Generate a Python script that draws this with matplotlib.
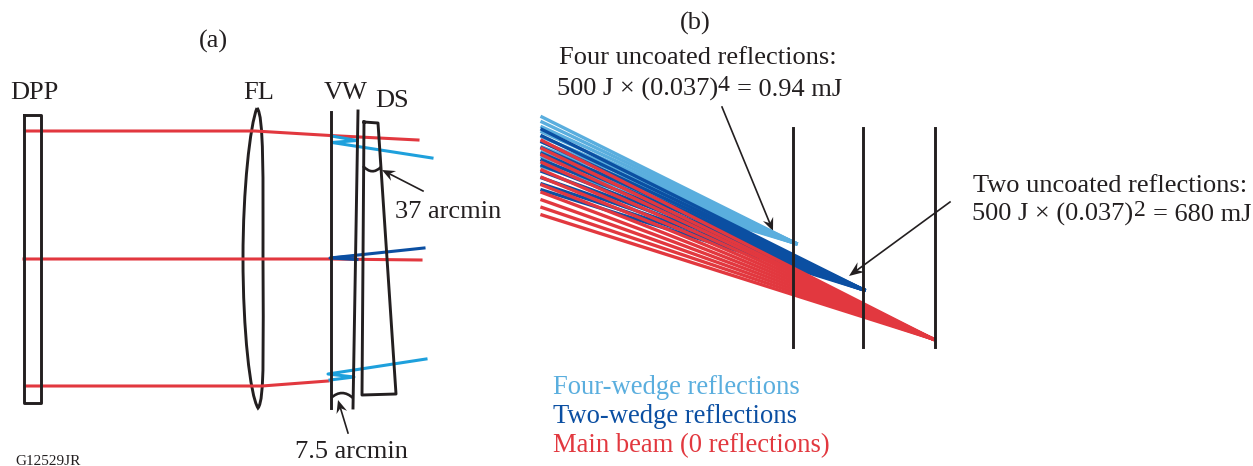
## Two panel beam layout sketch, everything placed in reference pixel coordinates.

import numpy as np
import matplotlib
matplotlib.use('Agg')
import matplotlib.pyplot as plt
from matplotlib.patches import PathPatch, Polygon
from matplotlib.path import Path

plt.rcParams['font.family'] = ['Liberation Serif', 'DejaVu Serif']

BLACK = '#231f20'
RED = '#e2383f'
LIGHT = '#5aaede'
CYAN = '#1ea0dc'
DARK = '#0b4fa2'

## (a) optics
dpp_x = [24, 41, 41, 24, 24]
dpp_y = [115, 115, 403, 403, 115]
vw_left_x = [330.5, 330.5]
vw_left_y = [112, 408]
vw_right_x = [358, 353]
vw_right_y = [111, 408]
ds_x = [364, 378, 396, 362, 364]
ds_y = [122, 123, 394, 395, 122]
lens_pts = [(257, 108), (264, 115), (263, 180), (263, 258),
            (263, 340), (265, 400), (258, 408),
            (250, 395), (243, 330), (243, 258),
            (243, 190), (250, 125), (257, 108)]

## (a) rays
red_top_x = [26, 255, 330, 418]
red_top_y = [131, 131, 135.5, 140]
red_mid_x = [24, 330, 421]
red_mid_y = [259, 259, 260]
red_bot_x = [25, 262, 328]
red_bot_y = [386, 386, 381]
cyan_top_x = [331.5, 357, 332, 432]
cyan_top_y = [136, 140.5, 142.5, 158]
cyan_bot_x = [426, 328, 354, 330]
cyan_bot_y = [359, 374, 377, 380]
dark_mid_x = [424, 330, 357]
dark_mid_y = [248, 258, 259.5]
dark_wedge_x = [330, 357, 357]
dark_wedge_y = [256.5, 254.5, 260.5]

## (a) angle marks: start, control, end
arc_ds = [(363, 166), (372, 176), (381, 167)]
arc_vw = [(331, 398), (342, 388), (353, 398)]

## (b) planes and ray fans
plane_x = [792.5, 862.5, 934.5]
plane_y = [128, 347]
fan_start_x = 542
light_start = [117, 122, 127, 132, 137, 142, 147, 152, 157, 162, 167]
light_end = (796, 243.5)
dark_start = [129.5, 136, 142, 148, 153.5, 160, 165.5, 171.5, 178, 184, 190]
dark_end = (864, 290)
red_start = [140.5, 148.5, 155, 162.5, 170, 177.5, 185, 192.5, 200, 207.5, 215]
red_end = (933, 339)

## annotation arrows: tail, tip, head length, head half width
arrows = [((423, 191), (382, 170), 13, 5.5),
          ((348, 433), (338, 400), 13, 5.5),
          ((722, 107), (773, 231), 13, 5.5),
          ((950, 202), (849, 276), 15, 6)]

fig = plt.figure(figsize=(12.53, 4.66), dpi=100)
ax = fig.add_axes([0, 0, 1, 1])
ax.set_xlim(0, 1253)
ax.set_ylim(466, 0)
ax.axis('off')

## left panel
ax.plot(red_top_x, red_top_y, color=RED, lw=2.2)
ax.plot(red_mid_x, red_mid_y, color=RED, lw=2.2)
ax.plot(red_bot_x, red_bot_y, color=RED, lw=2.2)
ax.plot(cyan_top_x, cyan_top_y, color=CYAN, lw=2.2)
ax.plot(cyan_bot_x, cyan_bot_y, color=CYAN, lw=2.2)
ax.plot(dark_mid_x, dark_mid_y, color=DARK, lw=2.2)
ax.fill(dark_wedge_x, dark_wedge_y, color=DARK, lw=0)
ax.plot(dpp_x, dpp_y, color=BLACK, lw=2.1)
ax.plot(vw_left_x, vw_left_y, color=BLACK, lw=2.1)
ax.plot(vw_right_x, vw_right_y, color=BLACK, lw=2.1)
ax.plot(ds_x, ds_y, color=BLACK, lw=2.1)
lens = Path(lens_pts, [Path.MOVETO] + [Path.CURVE4] * 12)
ax.add_patch(PathPatch(lens, fill=False, ec=BLACK, lw=2.1))
for arc in [arc_ds, arc_vw]:
  p = Path(arc, [Path.MOVETO, Path.CURVE3, Path.CURVE3])
  ax.add_patch(PathPatch(p, fill=False, ec=BLACK, lw=1.9))

## right panel
for y0 in light_start:
  ax.plot([fan_start_x, light_end[0]], [y0, light_end[1]], color=LIGHT, lw=2.4)
for y0 in dark_start:
  ax.plot([fan_start_x, dark_end[0]], [y0, dark_end[1]], color=DARK, lw=2.4)
for y0 in red_start:
  ax.plot([fan_start_x, red_end[0]], [y0, red_end[1]], color=RED, lw=2.4)
for x in plane_x:
  ax.plot([x, x], plane_y, color=BLACK, lw=2.1)

## arrows with a notched head
for tail, tip, hl, hw in arrows:
  t = np.array(tail, dtype=float)
  h = np.array(tip, dtype=float)
  u = (h - t) / np.hypot(*(h - t))
  n = np.array([-u[1], u[0]])
  ax.plot([t[0], (h - u * hl * 0.6)[0]], [t[1], (h - u * hl * 0.6)[1]], color=BLACK, lw=1.2)
  ax.add_patch(Polygon([h, h - u * hl + n * hw, h - u * hl * 0.65, h - u * hl - n * hw],
                       closed=True, fc=BLACK, ec='none'))

## text
fs = 19
ax.text(213, 48, '(a)', fontsize=fs, ha='center', color=BLACK)
ax.text(695, 30, '(b)', fontsize=fs, ha='center', color=BLACK)
ax.text(10, 99, 'DPP', fontsize=fs, color=BLACK)
ax.text(243, 99, 'FL', fontsize=fs, color=BLACK)
ax.text(324, 99, 'VW', fontsize=fs, color=BLACK)
ax.text(375, 107, 'DS', fontsize=fs, color=BLACK)
ax.text(395, 218, '37 arcmin', fontsize=fs, color=BLACK)
ax.text(295, 458, '7.5 arcmin', fontsize=fs, color=BLACK)
ax.text(15, 465, 'G12529JR', fontsize=11, color=BLACK)
ax.text(698, 64, 'Four uncoated reflections:', fontsize=fs, ha='center', color=BLACK)
ax.text(557, 96, '500 J \u00d7 (0.037)', fontsize=fs, color=BLACK)
ax.text(718, 91, '4', fontsize=17, color=BLACK)
ax.text(737, 96, '= 0.94 mJ', fontsize=fs, color=BLACK)
ax.text(1110.5, 192, 'Two uncoated reflections:', fontsize=fs, ha='center', color=BLACK)
ax.text(972, 221, '500 J \u00d7 (0.037)', fontsize=fs, color=BLACK)
ax.text(1134, 216, '2', fontsize=17, color=BLACK)
ax.text(1153, 221, '= 680 mJ', fontsize=fs, color=BLACK)
ax.text(553, 394, 'Four-wedge reflections', fontsize=19.2, color=LIGHT)
ax.text(553, 423, 'Two-wedge reflections', fontsize=19.2, color=DARK)
ax.text(553, 452, 'Main beam (0 reflections)', fontsize=19.2, color=RED)

plt.savefig('out.png', dpi=100)
